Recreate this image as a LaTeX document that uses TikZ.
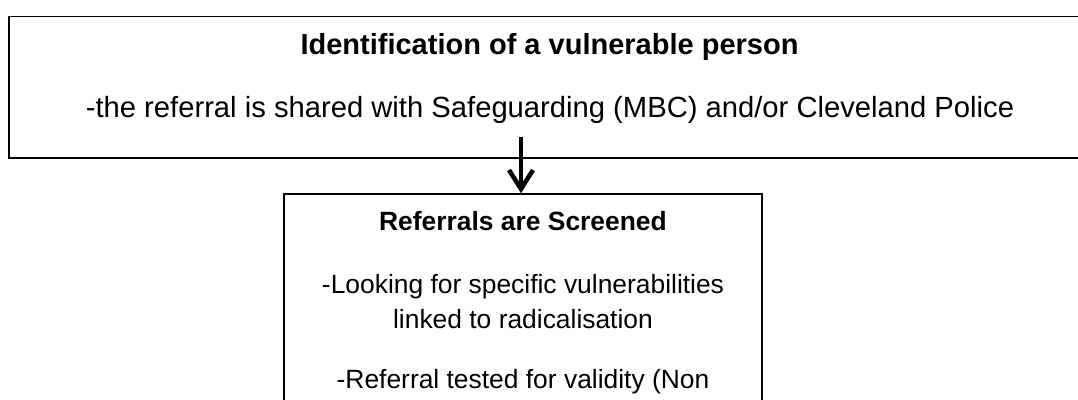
\documentclass[tikz,border=0pt]{standalone}
\usepackage{fontspec}
\setmainfont{Liberation Sans}
\usetikzlibrary{arrows.meta}
\tikzset{
  frame/.style={draw=black, line width=1.6pt, inner sep=0pt},
  headtext/.style={anchor=base, inner sep=0pt, font=\bfseries\fontsize{29}{35}\selectfont},
  bodytext/.style={anchor=base, inner sep=0pt, font=\fontsize{29.2}{35}\selectfont},
  subhead/.style={anchor=base, inner sep=0pt, font=\bfseries\fontsize{26.4}{31}\selectfont},
  subtext/.style={anchor=base, inner sep=0pt, font=\fontsize{26.4}{31}\selectfont},
  flow/.style={line width=4.5pt, -{Straight Barb[length=19pt, width=24pt, line width=4.5pt]}}
}
\begin{document}
\begin{tikzpicture}[x=1pt, y=-1pt]
\useasboundingbox (0,0) rectangle (1078,399);
\clip (0,0) rectangle (1078,399);
\fill[white] (0,0) rectangle (1078,399);

% first stage: identification
\node[frame, minimum width=1081pt, minimum height=141.5pt] (ident) at (549.5,87.25) {};
\node[headtext] (identtitle) at (549.5,54) {Identification of a vulnerable person};
\node[bodytext] (identtext) at (550,117) {-the referral is shared with Safeguarding (MBC) and/or Cleveland Police};

% second stage: screening
\node[frame, minimum width=478pt, minimum height=210pt] (screen) at (523,299) {};
\node[subhead] (screentitle) at (523,230) {Referrals are Screened};
\node[subtext] (screenA) at (523,293) {-Looking for specific vulnerabilities};
\node[subtext] (screenB) at (523,328) {linked to radicalisation};
\node[subtext] (screenC) at (523,388) {-Referral tested for validity (Non};

% connector between the stages
\coordinate (flowstart) at (521,137);
\draw[flow] (flowstart) -- (flowstart |- screen.north);
\end{tikzpicture}
\end{document}
